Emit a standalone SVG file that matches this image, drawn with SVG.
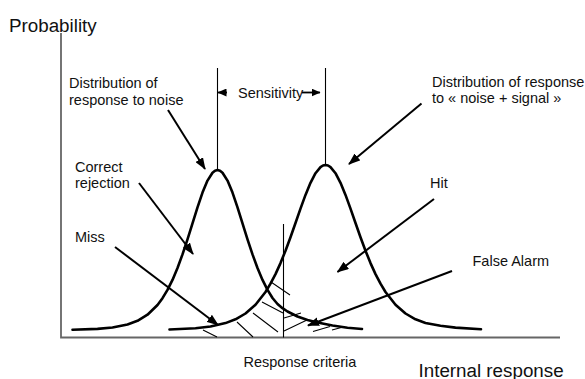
<svg xmlns="http://www.w3.org/2000/svg" width="585" height="379" viewBox="0 0 585 379">
<style>
text{font-family:"Liberation Sans",Arial,sans-serif;fill:#111}
.lbl{font-size:14.5px}
.big{font-size:18.8px}
.axis{stroke:#666;stroke-width:1.8;fill:none}
.curve{stroke:#000;stroke-width:2.6;fill:none;stroke-linejoin:round;stroke-linecap:round}
.thin{stroke:#000;stroke-width:1.1;fill:none}
.hatch{stroke:#000;stroke-width:1.05;fill:none}
.arrow{stroke:#000;stroke-width:2;fill:none;marker-end:url(#ah)}
.sarrow{stroke:#000;stroke-width:1.8;fill:none;marker-end:url(#sah)}
</style>
<defs>
<marker id="ah" markerUnits="userSpaceOnUse" markerWidth="12" markerHeight="9" refX="11" refY="4.5" orient="auto"><path d="M0,0 L12,4.5 L0,9 z" fill="#000"/></marker>
<marker id="sah" markerUnits="userSpaceOnUse" markerWidth="9" markerHeight="8" refX="8.5" refY="4" orient="auto"><path d="M0,0 L9,4 L0,8 z" fill="#000"/></marker>
</defs>
<rect width="585" height="379" fill="#fff"/>
<g id="axes">
<path class="axis" d="M61,33 V337.5 H560"/>
</g>
<g id="guides">
<path class="thin" d="M217.5,68 V170"/>
<path class="thin" d="M325.5,68 V165"/>
<path class="thin" d="M283.5,224 V337.5"/>
</g>
<g id="hatching">
<path class="hatch" d="M271,282 L290,295 M262,302 L283,313 M253,313 L278,332 M237,322 L253,337 M203,330 L217,337 M284,318 L301,313 M284,331 L308,319.5 M313,331.5 L330,326.5 M332,330 L345,326.5"/>
</g>
<g id="curve-noise">
<polyline class="curve" points="72.5,329.7 97.5,328.85 112.5,327.5 127.5,324.5 137.5,320.8 147.5,314.7 157.5,305 162.5,298.2 167.5,289.9 172.5,279.9 177.5,268.05 182.5,254.4 187.5,239.3 192.5,223.3 197.5,207.3 202.5,192.6 207.5,180.6 212.5,172.7 215,170.7 217.5,170 220,170.7 222.5,172.7 227.5,180.6 232.5,192.6 237.5,207.3 242.5,223.3 247.5,239.3 252.5,254.4 257.5,268.05 262.5,279.9 267.5,289.9 272.5,298 277.5,304 282.5,308.2 287.5,311.5 297.5,316.5 307.5,320 317.5,322.5 332.5,325.5 347.5,327.7 362,329"/>
</g>
<g id="curve-signal">
<polyline class="curve" points="169.5,329.5 195.5,328.2 210.5,326.5 225.5,323.1 235.5,319.3 245.5,313.5 255.5,304.7 265.5,292 270.5,283.7 275.5,274.1 280.5,263.1 285.5,250.7 290.5,237.2 295.5,223 300.5,208.6 305.5,194.9 310.5,182.8 315.5,173.2 320.5,167.1 323,165.5 325.5,165 328,165.5 330.5,167.1 335.5,173.2 340.5,182.8 345.5,194.9 350.5,208.6 355.5,223 360.5,237.2 365.5,250.7 370.5,263.1 375.5,274.1 380.5,283.7 385.5,292 395.5,304.7 405.5,313.5 415.5,319.3 425.5,323 440.5,325.8 455.5,327.6 481,329.2"/>
</g>
<g id="label-probability"><text class="big" x="9" y="31.5">Probability</text></g>
<g id="label-internal"><text class="big" x="418.5" y="376.5">Internal response</text></g>
<g id="label-criteria"><text class="lbl" x="243.5" y="366.5">Response criteria</text></g>
<g id="label-noise"><text class="lbl" x="69" y="88">Distribution of</text><text class="lbl" x="69" y="104.5">response to noise</text></g>
<g id="label-signal"><text class="lbl" x="432" y="87">Distribution of response</text><text class="lbl" x="432" y="103">to « noise + signal »</text></g>
<g id="label-sensitivity"><text class="lbl" x="238" y="97.5">Sensitivity</text></g>
<g id="label-correct"><text class="lbl" x="75" y="171.5">Correct</text><text class="lbl" x="75" y="187.5">rejection</text></g>
<g id="label-miss"><text class="lbl" x="75" y="242">Miss</text></g>
<g id="label-hit"><text class="lbl" x="430" y="188">Hit</text></g>
<g id="label-false-alarm"><text class="lbl" x="472.5" y="265.5">False Alarm</text></g>
<g id="connectors">
<path class="sarrow" d="M227,92.5 H218"/>
<path class="sarrow" d="M302,92.5 H320"/>
<path class="arrow" d="M168,110 L205,169"/>
<path class="arrow" d="M421.5,103.5 L349,164"/>
<path class="arrow" d="M139,183 L193,254"/>
<path class="arrow" d="M115,247 L218,325"/>
<path class="arrow" d="M434,199 L337.5,272"/>
<path class="arrow" d="M452,271 L308,325.5"/>
</g>
</svg>
